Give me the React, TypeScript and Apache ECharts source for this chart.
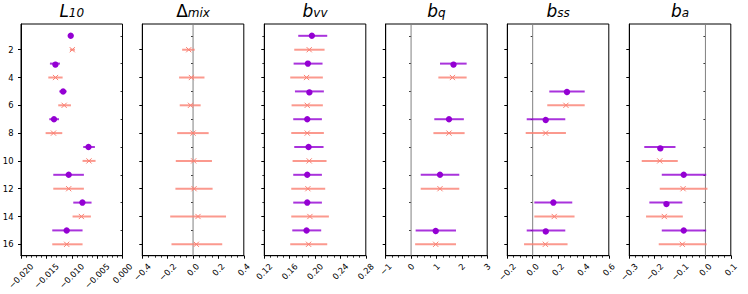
import React, { useEffect, useRef } from 'react';
import * as echarts from 'echarts';

const PURPLE = '#9400D3';
const SALMON = '#FA8072';

const ODD_ROWS = [1, 3, 5, 7, 9, 11, 13, 15];
const EVEN_ROWS = [2, 4, 6, 8, 10, 12, 14, 16];

// L10
const L10_P_VAL = [-0.0102, -0.01325, -0.0117, -0.0135, -0.0067, -0.0106, -0.0079, -0.011];
const L10_P_LO = [-0.0105, -0.0143, -0.01246, -0.01443, -0.00774, -0.01364, -0.0097, -0.01384];
const L10_P_HI = [-0.0099, -0.01233, -0.01102, -0.01252, -0.00544, -0.00761, -0.0061, -0.00787];
const L10_S_VAL = [-0.0099, -0.0132, -0.0115, -0.0136, -0.0066, -0.0106, -0.0081, -0.011];
const L10_S_LO = [-0.01036, -0.01462, -0.01266, -0.01515, -0.00787, -0.01364, -0.00984, -0.01384];
const L10_S_HI = [-0.00938, -0.0118, -0.01016, -0.01187, -0.00531, -0.00761, -0.00623, -0.00787];

// Delta_mix
const DMIX_S_VAL = [-0.034, -0.013, -0.02, 0.0, 0.005, 0.008, 0.039, 0.026];
const DMIX_S_LO = [-0.086, -0.11, -0.105, -0.125, -0.136, -0.139, -0.18, -0.17];
const DMIX_S_HI = [0.013, 0.09, 0.06, 0.123, 0.149, 0.154, 0.26, 0.23];

// b_vv
const BVV_P_VAL = [0.195, 0.1887, 0.1908, 0.1877, 0.1898, 0.1877, 0.1877, 0.1866];
const BVV_P_LO = [0.1735, 0.1662, 0.1683, 0.1656, 0.1672, 0.1656, 0.1656, 0.1641];
const BVV_P_HI = [0.2192, 0.2118, 0.2139, 0.2108, 0.2134, 0.2108, 0.2108, 0.2097];
const BVV_S_VAL = [0.1908, 0.1866, 0.1877, 0.1877, 0.1908, 0.1887, 0.1919, 0.1898];
const BVV_S_LO = [0.1672, 0.1609, 0.163, 0.1625, 0.1646, 0.1625, 0.1625, 0.1609];
const BVV_S_HI = [0.215, 0.2123, 0.2123, 0.2139, 0.2181, 0.216, 0.2218, 0.2192];

// b_q
const BQ_P_ROWS = [3, 7, 11, 15];
const BQ_P_VAL = [1.666, 1.495, 1.14, 0.97];
const BQ_P_LO = [1.14, 0.915, 0.38, 0.18];
const BQ_P_HI = [2.19, 2.08, 1.9, 1.77];
const BQ_S_ROWS = [4, 8, 12, 16];
const BQ_S_VAL = [1.63, 1.495, 1.14, 0.97];
const BQ_S_LO = [1.075, 0.88, 0.38, 0.16];
const BQ_S_HI = [2.19, 2.11, 1.9, 1.77];

// b_ss
const BSS_P_ROWS = [5, 7, 13, 15];
const BSS_P_VAL = [0.27, 0.102, 0.163, 0.102];
const BSS_P_LO = [0.131, -0.047, 0.013, -0.047];
const BSS_P_HI = [0.41, 0.257, 0.312, 0.257];
const BSS_S_ROWS = [6, 8, 14, 16];
const BSS_S_VAL = [0.262, 0.102, 0.17, 0.1];
const BSS_S_LO = [0.115, -0.055, 0.013, -0.068];
const BSS_S_HI = [0.41, 0.262, 0.33, 0.275];

// b_a
const BA_P_ROWS = [9, 11, 13, 15];
const BA_P_VAL = [-0.179, -0.0855, -0.155, -0.0855];
const BA_P_LO = [-0.241, -0.172, -0.221, -0.172];
const BA_P_HI = [-0.118, 0.003, -0.091, 0.003];
const BA_S_ROWS = [10, 12, 14, 16];
const BA_S_VAL = [-0.18, -0.088, -0.162, -0.091];
const BA_S_LO = [-0.251, -0.18, -0.234, -0.184];
const BA_S_HI = [-0.109, 0.008, -0.089, 0.005];

// tick labels
const Y_TICKS = [2, 4, 6, 8, 10, 12, 14, 16];
const Y_MINOR = [1, 3, 5, 7, 9, 11, 13, 15];
const L10_X_TICKS = [-0.02, -0.015, -0.01, -0.005, 0];
const DMIX_X_TICKS = [-0.4, -0.2, 0, 0.2, 0.4];
const BVV_X_TICKS = [0.12, 0.16, 0.2, 0.24, 0.28];
const BQ_X_TICKS = [-1, 0, 1, 2, 3];
const BSS_X_TICKS = [-0.2, 0, 0.2, 0.4, 0.6];
const BA_X_TICKS = [-0.3, -0.2, -0.1, 0, 0.1];

type Pts = { rows: number[]; val: number[]; lo: number[]; hi: number[] } | null;

const pts = (rows: number[], val: number[], lo: number[], hi: number[]) => ({ rows, val, lo, hi });

const PANELS = [
  { main: 'L', mainItalic: true, sub: '10', ticks: L10_X_TICKS, minorSplit: 5, dec: 3, zero: false,
    p: pts(ODD_ROWS, L10_P_VAL, L10_P_LO, L10_P_HI), s: pts(EVEN_ROWS, L10_S_VAL, L10_S_LO, L10_S_HI) },
  { main: 'Δ', mainItalic: false, sub: 'mix', ticks: DMIX_X_TICKS, minorSplit: 4, dec: 1, zero: true,
    p: null, s: pts(EVEN_ROWS, DMIX_S_VAL, DMIX_S_LO, DMIX_S_HI) },
  { main: 'b', mainItalic: true, sub: 'vv', ticks: BVV_X_TICKS, minorSplit: 4, dec: 2, zero: false,
    p: pts(ODD_ROWS, BVV_P_VAL, BVV_P_LO, BVV_P_HI), s: pts(EVEN_ROWS, BVV_S_VAL, BVV_S_LO, BVV_S_HI) },
  { main: 'b', mainItalic: true, sub: 'q', ticks: BQ_X_TICKS, minorSplit: 4, dec: 0, zero: true,
    p: pts(BQ_P_ROWS, BQ_P_VAL, BQ_P_LO, BQ_P_HI), s: pts(BQ_S_ROWS, BQ_S_VAL, BQ_S_LO, BQ_S_HI) },
  { main: 'b', mainItalic: true, sub: 'ss', ticks: BSS_X_TICKS, minorSplit: 4, dec: 1, zero: true,
    p: pts(BSS_P_ROWS, BSS_P_VAL, BSS_P_LO, BSS_P_HI), s: pts(BSS_S_ROWS, BSS_S_VAL, BSS_S_LO, BSS_S_HI) },
  { main: 'b', mainItalic: true, sub: 'a', ticks: BA_X_TICKS, minorSplit: 4, dec: 1, zero: true,
    p: pts(BA_P_ROWS, BA_P_VAL, BA_P_LO, BA_P_HI), s: pts(BA_S_ROWS, BA_S_VAL, BA_S_LO, BA_S_HI) },
];

const LEFTS = [21, 142.3, 264.3, 385.7, 507.3, 629.3];
const GRID_W = 101.5;
const GRID_TOP = 24;
const GRID_H = 231.7;
const Y_MIN = 0.15;
const Y_MAX = 16.82;
const FONT = 'DejaVu Sans';
const TICK_FS = 8.4;

const fmt = (v: number, dec: number) => v.toFixed(dec).replace('-', '\u2212');

const makeRender = (color: string, kind: 'dot' | 'x') => (params: any, api: any) => {
  const y = api.value(0);
  const v = api.value(1);
  const a = api.coord([api.value(2), y]);
  const b = api.coord([api.value(3), y]);
  const p = api.coord([v, y]);
  const children: any[] = [
    { type: 'line', shape: { x1: a[0], y1: a[1], x2: b[0], y2: b[1] }, style: { stroke: color, lineWidth: 2, opacity: 0.8 } },
  ];
  if (kind === 'dot') {
    children.push({ type: 'circle', shape: { cx: p[0], cy: p[1], r: 3.2 }, style: { fill: color } });
  } else {
    const s = 2.6;
    children.push({ type: 'line', shape: { x1: p[0] - s, y1: p[1] - s, x2: p[0] + s, y2: p[1] + s }, style: { stroke: color, lineWidth: 1 } });
    children.push({ type: 'line', shape: { x1: p[0] - s, y1: p[1] + s, x2: p[0] + s, y2: p[1] - s }, style: { stroke: color, lineWidth: 1 } });
  }
  return { type: 'group', children };
};

export default function App() {
  const ref = useRef<HTMLDivElement>(null);
  useEffect(() => {
    const chart = echarts.init(ref.current!, null, { renderer: 'svg' });
    const grid: any[] = [];
    const xAxis: any[] = [];
    const yAxis: any[] = [];
    const series: any[] = [];
    PANELS.forEach((pn, i) => {
      const t = pn.ticks;
      grid.push({
        left: LEFTS[i], top: GRID_TOP, width: GRID_W, height: GRID_H, show: true, borderColor: '#000', borderWidth: 1,
        backgroundColor: 'transparent', containLabel: false, outerBoundsMode: 'none',
      });
      xAxis.push({
        type: 'value', gridIndex: i, min: t[0], max: t[t.length - 1], interval: t[1] - t[0],
        axisLine: { show: true, onZero: false, lineStyle: { color: '#000', width: 1 } },
        axisTick: { show: true, length: 3, lineStyle: { color: '#000', width: 1 } },
        minorTick: { show: true, splitNumber: pn.minorSplit, length: 2, lineStyle: { color: '#000', width: 0.8 } },
        splitLine: { show: false },
        axisLabel: { show: false },
      });
      yAxis.push({
        type: 'value', gridIndex: i, inverse: true, min: Y_MIN, max: Y_MAX, position: 'left',
        axisLine: { show: true, onZero: false, lineStyle: { color: '#000', width: 1 } },
        axisTick: { show: true, length: 3, customValues: Y_TICKS, lineStyle: { color: '#000', width: 1 } },
        axisLabel: { show: i === 0, customValues: Y_TICKS, fontSize: TICK_FS, color: '#000', fontFamily: FONT, margin: 7.5 },
        splitLine: { show: false },
      });
      yAxis.push({
        type: 'value', gridIndex: i, inverse: true, min: Y_MIN, max: Y_MAX, position: 'left', offset: 0,
        axisLine: { show: false },
        axisTick: { show: true, length: 2, customValues: Y_MINOR, lineStyle: { color: '#000', width: 0.8 } },
        axisLabel: { show: false },
        splitLine: { show: false },
      });
      if (pn.zero) {
        series.push({
          type: 'line', xAxisIndex: i, yAxisIndex: 2 * i, data: [[0, Y_MIN], [0, Y_MAX]], symbol: 'none', silent: true,
          lineStyle: { color: '#808080', width: 1 }, z: 1,
        });
      }
      const addPts = (d: Pts, color: string, kind: 'dot' | 'x') => {
        if (!d) return;
        series.push({
          type: 'custom', xAxisIndex: i, yAxisIndex: 2 * i, renderItem: makeRender(color, kind),
          encode: { x: [1, 2, 3], y: 0 }, z: 3, silent: true,
          data: d.rows.map((r, k) => [r, d.val[k], d.lo[k], d.hi[k]]),
        });
      };
      addPts(pn.s, SALMON, 'x');
      addPts(pn.p, PURPLE, 'dot');
    });
    chart.setOption({ animation: false, grid, xAxis, yAxis, series });

    // titles and rotated x tick labels (centred under their ticks, like matplotlib)
    const canvas = document.createElement('canvas');
    const ctx = canvas.getContext('2d')!;
    ctx.font = `${TICK_FS}px "${FONT}"`;
    const graphic: any[] = [];
    const h = 1.13 * TICK_FS;
    PANELS.forEach((pn, i) => {
      graphic.push({
        type: 'text', x: LEFTS[i] + GRID_W / 2, y: 19, silent: true,
        style: {
          text: `{m|${pn.main}}{s|${pn.sub}}`, align: 'center', verticalAlign: 'bottom',
          rich: {
            m: { fontSize: 17, fontFamily: FONT, fontStyle: pn.mainItalic ? 'italic' : 'normal', fill: '#000', lineHeight: 20, verticalAlign: 'bottom' },
            s: { fontSize: 12, fontFamily: FONT, fontStyle: 'italic', fill: '#000', lineHeight: 9, verticalAlign: 'bottom' },
          },
        },
      });
      const axisY = chart.convertToPixel({ yAxisIndex: 2 * i }, Y_MAX) as number;
      pn.ticks.forEach((v) => {
        const label = fmt(v, pn.dec);
        const x = chart.convertToPixel({ xAxisIndex: i }, v) as number;
        const L = ctx.measureText(label).width;
        const W = (L + h) / Math.SQRT2;
        graphic.push({
          type: 'text', x, y: axisY + 5.8 + W / 2, rotation: Math.PI / 4, silent: true,
          style: { text: label, fontSize: TICK_FS, fontFamily: FONT, fill: '#000', align: 'center', verticalAlign: 'middle' },
        });
      });
    });
    chart.setOption({ graphic });
    return () => chart.dispose();
  }, []);
  return <div ref={ref} style={{ position: 'absolute', left: 0, top: 0, width: 748, height: 294 }} />;
}
